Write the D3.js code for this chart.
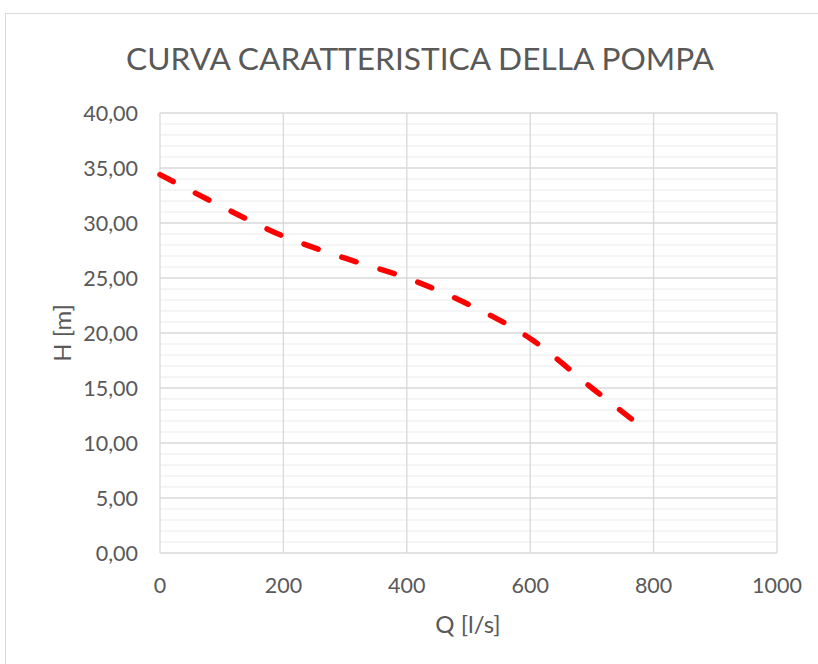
<!DOCTYPE html>
<html><head><meta charset="utf-8">
<script src="https://cdn.jsdelivr.net/npm/d3@7"></script>
<style>body{margin:0;background:#fff}svg{display:block}text{font-family:Lato,"Open Sans",sans-serif;fill:#595959}</style>
</head><body><svg id="c" width="818" height="664"></svg>
<script>
const qValues = [0, 100, 200, 300, 400, 500, 600, 700, 780];
const hValues = [34.4, 31.5, 28.8, 26.8, 25.0, 22.6, 19.5, 15.0, 11.5];
const xTicks = [0, 200, 400, 600, 800, 1000];
const yTicks = [0, 5, 10, 15, 20, 25, 30, 35, 40];
const yMinor = d3.range(0, 41, 1);

const svg = d3.select("#c");
svg.append("rect").attr("x",5.5).attr("y",13.5).attr("width",830).attr("height",680)
  .attr("fill","#fff").attr("stroke","#d9d9d9");

const L=160,R=777,T=113,B=553;
const x = d3.scaleLinear().domain([0,1000]).range([L,R]);
const y = d3.scaleLinear().domain([0,40]).range([B,T]);

const g = svg.append("g");
g.selectAll(".mn").data(yMinor.filter(v=>v%5!==0)).join("line")
  .attr("x1",L).attr("x2",R).attr("y1",d=>y(d)).attr("y2",d=>y(d))
  .attr("stroke","#f2f2f2").attr("stroke-width",1.3);
g.selectAll(".mj").data(yTicks).join("line")
  .attr("x1",L).attr("x2",R).attr("y1",d=>y(d)).attr("y2",d=>y(d))
  .attr("stroke","#d9d9d9").attr("stroke-width",1.3);
g.selectAll(".vx").data(xTicks).join("line")
  .attr("y1",T).attr("y2",B).attr("x1",d=>x(d)).attr("x2",d=>x(d))
  .attr("stroke","#d9d9d9").attr("stroke-width",1.3);

g.selectAll(".yl").data(yTicks).join("text")
  .attr("x",L-22).attr("y",d=>y(d)).attr("dy","0.36em").attr("text-anchor","end")
  .attr("font-size",21.5).text(d=>d3.format(".2f")(d).replace(".",","));
g.selectAll(".xl").data(xTicks).join("text")
  .attr("x",d=>x(d)).attr("y",B+40).attr("text-anchor","middle")
  .attr("font-size",21.5).text(d=>d);

svg.append("text").attr("x",420).attr("y",70).attr("text-anchor","middle")
  .attr("font-size",30).attr("textLength",588).attr("lengthAdjust","spacingAndGlyphs")
  .text("CURVA CARATTERISTICA DELLA POMPA");
svg.append("text").attr("x",468).attr("y",633).attr("text-anchor","middle")
  .attr("font-size",24).text("Q [l/s]");
svg.append("text").attr("transform","translate(71,333) rotate(-90)").attr("text-anchor","middle")
  .attr("font-size",24).text("H [m]");

const line = d3.line().x((d,i)=>x(qValues[i])).y(d=>y(d)).curve(d3.curveCatmullRom);
svg.append("path").attr("d",line(hValues)).attr("fill","none").attr("stroke","#ff0000")
  .attr("stroke-width",5.5).attr("stroke-linecap","round").attr("stroke-dasharray","15,25");
</script></body></html>
